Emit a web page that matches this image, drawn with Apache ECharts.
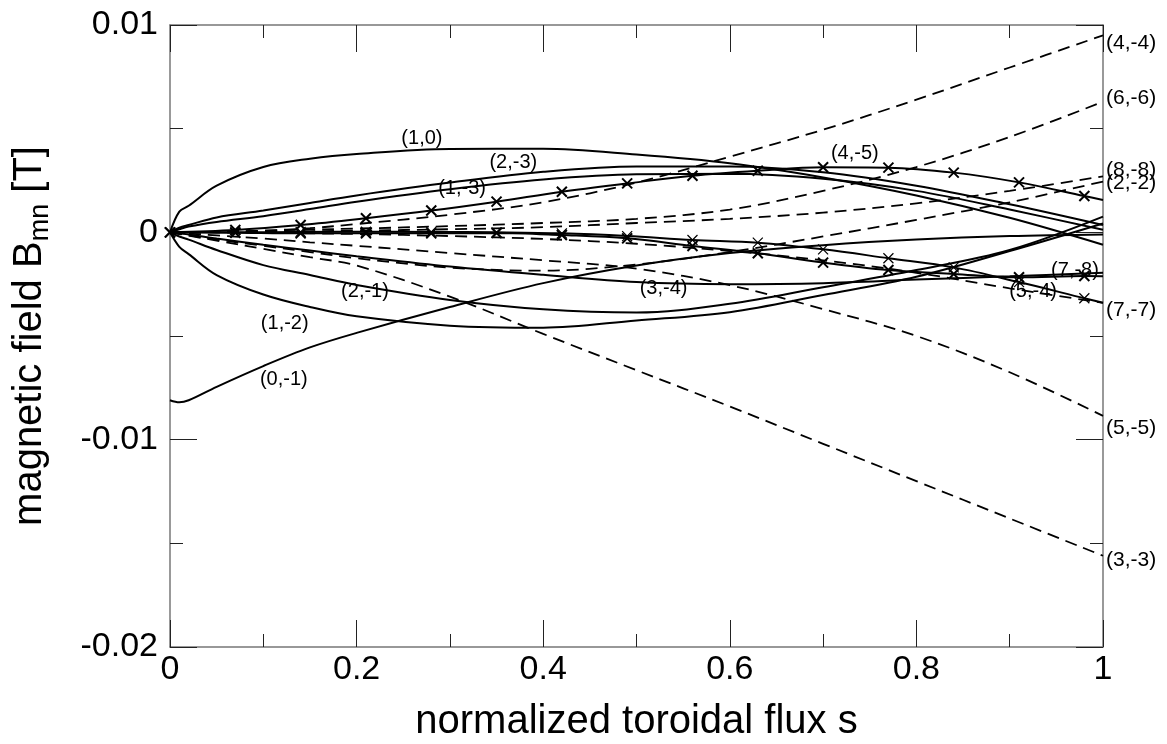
<!DOCTYPE html>
<html>
<head>
<meta charset="utf-8">
<script src="https://cdn.jsdelivr.net/npm/echarts@6/dist/echarts.min.js"></script>
<style>
  html, body { margin: 0; padding: 0; background: #fff; }
  #chart { width: 1167px; height: 744px; }
</style>
</head>
<body>
<div id="chart"></div>
<script>
// flux grid for the plain curves
const sGrid = [0, 0.01, 0.02, 0.05, 0.1, 0.15, 0.2, 0.3, 0.4, 0.5, 0.6, 0.7, 0.8, 0.9, 1.0];
// flux grid for the curves drawn with x markers
const sMark = [0, 0.07, 0.14, 0.21, 0.28, 0.35, 0.42, 0.49, 0.56, 0.63, 0.70, 0.77, 0.84, 0.91, 0.98, 1.0];

// solid curves (T)
const b_1_0  = [0, 0.00100, 0.00128, 0.00225, 0.00315, 0.00355, 0.00378, 0.00402, 0.00403, 0.00375, 0.00333, 0.00265, 0.00178, 0.00070, -0.00060];
const b_2_m3 = [0, 0.00022, 0.00035, 0.00072, 0.00105, 0.00142, 0.00178, 0.00240, 0.00292, 0.00318, 0.00318, 0.00290, 0.00225, 0.00135, 0.00035];
const b_1_m3 = [0, 0.00015, 0.00028, 0.00050, 0.00078, 0.00112, 0.00148, 0.00208, 0.00255, 0.00280, 0.00282, 0.00258, 0.00200, 0.00110, 0.00012];
const b_0_m1 = [-0.00810, -0.00820, -0.00810, -0.00745, -0.00645, -0.00555, -0.00485, -0.00360, -0.00245, -0.00160, -0.00100, -0.00062, -0.00035, -0.00018, -0.00010];
const b_2_m1 = [0, -0.00020, -0.00035, -0.00085, -0.00158, -0.00206, -0.00254, -0.00326, -0.00371, -0.00387, -0.00345, -0.00265, -0.00182, -0.00085, 0.00076];
const b_1_m2 = [0, -0.00070, -0.00105, -0.00206, -0.00300, -0.00360, -0.00405, -0.00450, -0.00460, -0.00425, -0.00385, -0.00302, -0.00214, -0.00090, 0.00043];
const b_3_m4 = [0, -0.00005, -0.00010, -0.00030, -0.00060, -0.00088, -0.00115, -0.00165, -0.00205, -0.00240, -0.00250, -0.00245, -0.00228, -0.00212, -0.00195];

// solid curves with markers (on sMark)
const b_4_m5 = [0, 0.00011, 0.00035, 0.00068, 0.00105, 0.00148, 0.00196, 0.00236, 0.00273, 0.00297, 0.00314, 0.00312, 0.00288, 0.00241, 0.00175, 0.00156];
const b_7_m8 = [0, -0.00002, -0.00005, -0.00005, -0.00005, -0.00003, -0.00013, -0.00029, -0.00066, -0.00101, -0.00146, -0.00182, -0.00201, -0.00217, -0.00211, -0.00212];
const b_5_m4 = [0, 0, 0.00002, 0.00003, 0.00002, 0, -0.00005, -0.00018, -0.00037, -0.00050, -0.00082, -0.00125, -0.00169, -0.00240, -0.00318, -0.00340];

// dashed curves (n = -m)
const b_4_m4 = [0, 0, 0, 0.00002, 0.00008, 0.00020, 0.00040, 0.00085, 0.00145, 0.00240, 0.00365, 0.00495, 0.00640, 0.00795, 0.00950];
const b_6_m6 = [0, 0, 0.00001, 0.00003, 0.00008, 0.00013, 0.00018, 0.00030, 0.00045, 0.00065, 0.00110, 0.00200, 0.00315, 0.00460, 0.00630];
const b_8_m8 = [0, 0, 0, 0.00001, 0.00003, 0.00005, 0.00008, 0.00015, 0.00025, 0.00045, 0.00065, 0.00095, 0.00140, 0.00200, 0.00270];
const b_2_m2 = [0, -0.00007, -0.00014, -0.00035, -0.00065, -0.00095, -0.00125, -0.00170, -0.00185, -0.00155, -0.00095, -0.00020, 0.00060, 0.00145, 0.00245];
const b_7_m7 = [0, 0, 0, -0.00001, -0.00002, -0.00005, -0.00008, -0.00018, -0.00032, -0.00055, -0.00090, -0.00135, -0.00195, -0.00270, -0.00340];
const b_5_m5 = [0, -0.00003, -0.00006, -0.00015, -0.00030, -0.00048, -0.00065, -0.00100, -0.00135, -0.00175, -0.00255, -0.00370, -0.00500, -0.00675, -0.00885];
const b_3_m3 = [0, -0.00008, -0.00016, -0.00040, -0.00080, -0.00120, -0.00160, -0.00310, -0.00490, -0.00665, -0.00840, -0.01020, -0.01200, -0.01380, -0.01560];

// mode labels inside the plot
const labelNames = ['(1,0)', '(2,-3)', '(1,-3)', '(4,-5)', '(2,-1)', '(1,-2)', '(0,-1)', '(3,-4)', '(7,-8)', '(5,-4)'];
const labelS = [0.270, 0.368, 0.313, 0.734, 0.209, 0.123, 0.122, 0.529, 0.970, 0.925];
const labelV = [0.00453, 0.00336, 0.00212, 0.00381, -0.00287, -0.00439, -0.00709, -0.00270, -0.00182, -0.00287];

const FONT = '"Liberation Sans", Arial, Helvetica, sans-serif';
const XMARK = 'path://M0,0L10,10M10,0L0,10';

const chart = echarts.init(document.getElementById('chart'));

function pairs(xs, ys) {
  return xs.map((x, i) => [x, ys[i]]);
}

function solid(name, ys) {
  return {
    name: name,
    type: 'line',
    data: pairs(sGrid, ys),
    smooth: 0.35,
    showSymbol: false,
    lineStyle: { color: '#000', width: 2 },
    itemStyle: { color: '#000' },
  };
}

function marked(name, ys, bw) {
  const data = pairs(sMark, ys).map((p, i) => (
    i === sMark.length - 1 ? { value: p, symbol: 'none' } : { value: p }
  ));
  return {
    name: name,
    type: 'line',
    data: data,
    smooth: 0.35,
    showSymbol: true,
    showAllSymbol: true,
    symbol: XMARK,
    symbolSize: 10,
    lineStyle: { color: '#000', width: 2 },
    itemStyle: { color: '#000', borderColor: '#000', borderWidth: bw },
  };
}

function dashed(name, ys, dy) {
  return {
    name: name,
    type: 'line',
    data: pairs(sGrid, ys),
    smooth: 0.35,
    showSymbol: false,
    lineStyle: { color: '#000', width: 1.8, type: [12, 7] },
    itemStyle: { color: '#000' },
    endLabel: {
      show: true,
      formatter: name,
      color: '#000',
      fontSize: 21,
      fontFamily: FONT,
      distance: 3,
      offset: [0, dy],
    },
  };
}

const xBase = {
  type: 'value',
  min: 0,
  max: 1,
  interval: 0.2,
  splitLine: { show: false },
  axisLine: { onZero: false, lineStyle: { color: '#777', width: 1.5 } },
  axisTick: { inside: true, length: 27, lineStyle: { color: '#222' } },
  minorTick: { show: true, splitNumber: 2, length: 13, lineStyle: { color: '#222' } },
};
const yBase = {
  type: 'value',
  min: -0.02,
  max: 0.01,
  interval: 0.01,
  splitLine: { show: false },
  axisLine: { onZero: false, lineStyle: { color: '#777', width: 1.5 } },
  axisTick: { inside: true, length: 27, lineStyle: { color: '#222' } },
  minorTick: { show: true, splitNumber: 2, length: 13, lineStyle: { color: '#222' } },
};

const option = {
  animation: false,
  backgroundColor: '#fff',
  grid: { left: 170, right: 64, top: 25, bottom: 97, outerBoundsMode: 'none', containLabel: false },
  xAxis: [
    Object.assign({}, xBase, {
      position: 'bottom',
      axisLabel: { color: '#000', fontSize: 34, fontFamily: FONT, margin: 6 },
      name: 'normalized toroidal flux s',
      nameLocation: 'middle',
      nameGap: 55,
      nameTextStyle: { color: '#000', fontSize: 40, fontFamily: FONT },
    }),
    Object.assign({}, xBase, { position: 'top', axisLabel: { show: false } }),
  ],
  yAxis: [
    Object.assign({}, yBase, {
      position: 'left',
      axisLabel: {
        color: '#000', fontSize: 34, fontFamily: FONT, margin: 12,
        formatter: (v) => (v === 0 ? '0' : String(+v.toFixed(2))),
      },
      name: 'magnetic field B{sub|mn} [T]',
      nameLocation: 'middle',
      nameGap: 116,
      nameRotate: 90,
      nameTextStyle: {
        color: '#000', fontSize: 40, fontFamily: FONT, lineHeight: 48,
        rich: {
          sub: { fontSize: 27, fontFamily: FONT, color: '#000', verticalAlign: 'bottom', lineHeight: 22 },
        },
      },
    }),
    Object.assign({}, yBase, { position: 'right', axisLabel: { show: false } }),
  ],
  series: [
    solid('(1,0)', b_1_0),
    solid('(2,-3)', b_2_m3),
    solid('(1,-3)', b_1_m3),
    solid('(0,-1)', b_0_m1),
    solid('(2,-1)', b_2_m1),
    solid('(1,-2)', b_1_m2),
    solid('(3,-4)', b_3_m4),
    marked('(4,-5)', b_4_m5, 2),
    marked('(7,-8)', b_7_m8, 2),
    marked('(5,-4)', b_5_m4, 1.2),
    dashed('(4,-4)', b_4_m4, 8),
    dashed('(6,-6)', b_6_m6, -4),
    dashed('(8,-8)', b_8_m8, -6),
    dashed('(2,-2)', b_2_m2, 2),
    dashed('(7,-7)', b_7_m7, 7),
    dashed('(5,-5)', b_5_m5, 12),
    dashed('(3,-3)', b_3_m3, 4),
    {
      name: 'labels',
      type: 'scatter',
      silent: true,
      symbolSize: 1,
      itemStyle: { color: 'transparent', opacity: 1 },
      data: labelNames.map((n, i) => ({ name: n, value: [labelS[i], labelV[i]] })),
      label: {
        show: true,
        position: 'inside',
        formatter: (p) => p.name,
        color: '#000',
        opacity: 1,
        textBorderWidth: 0,
        fontSize: 20,
        fontFamily: FONT,
      },
    },
  ],
};

chart.setOption(option);
</script>
</body>
</html>
